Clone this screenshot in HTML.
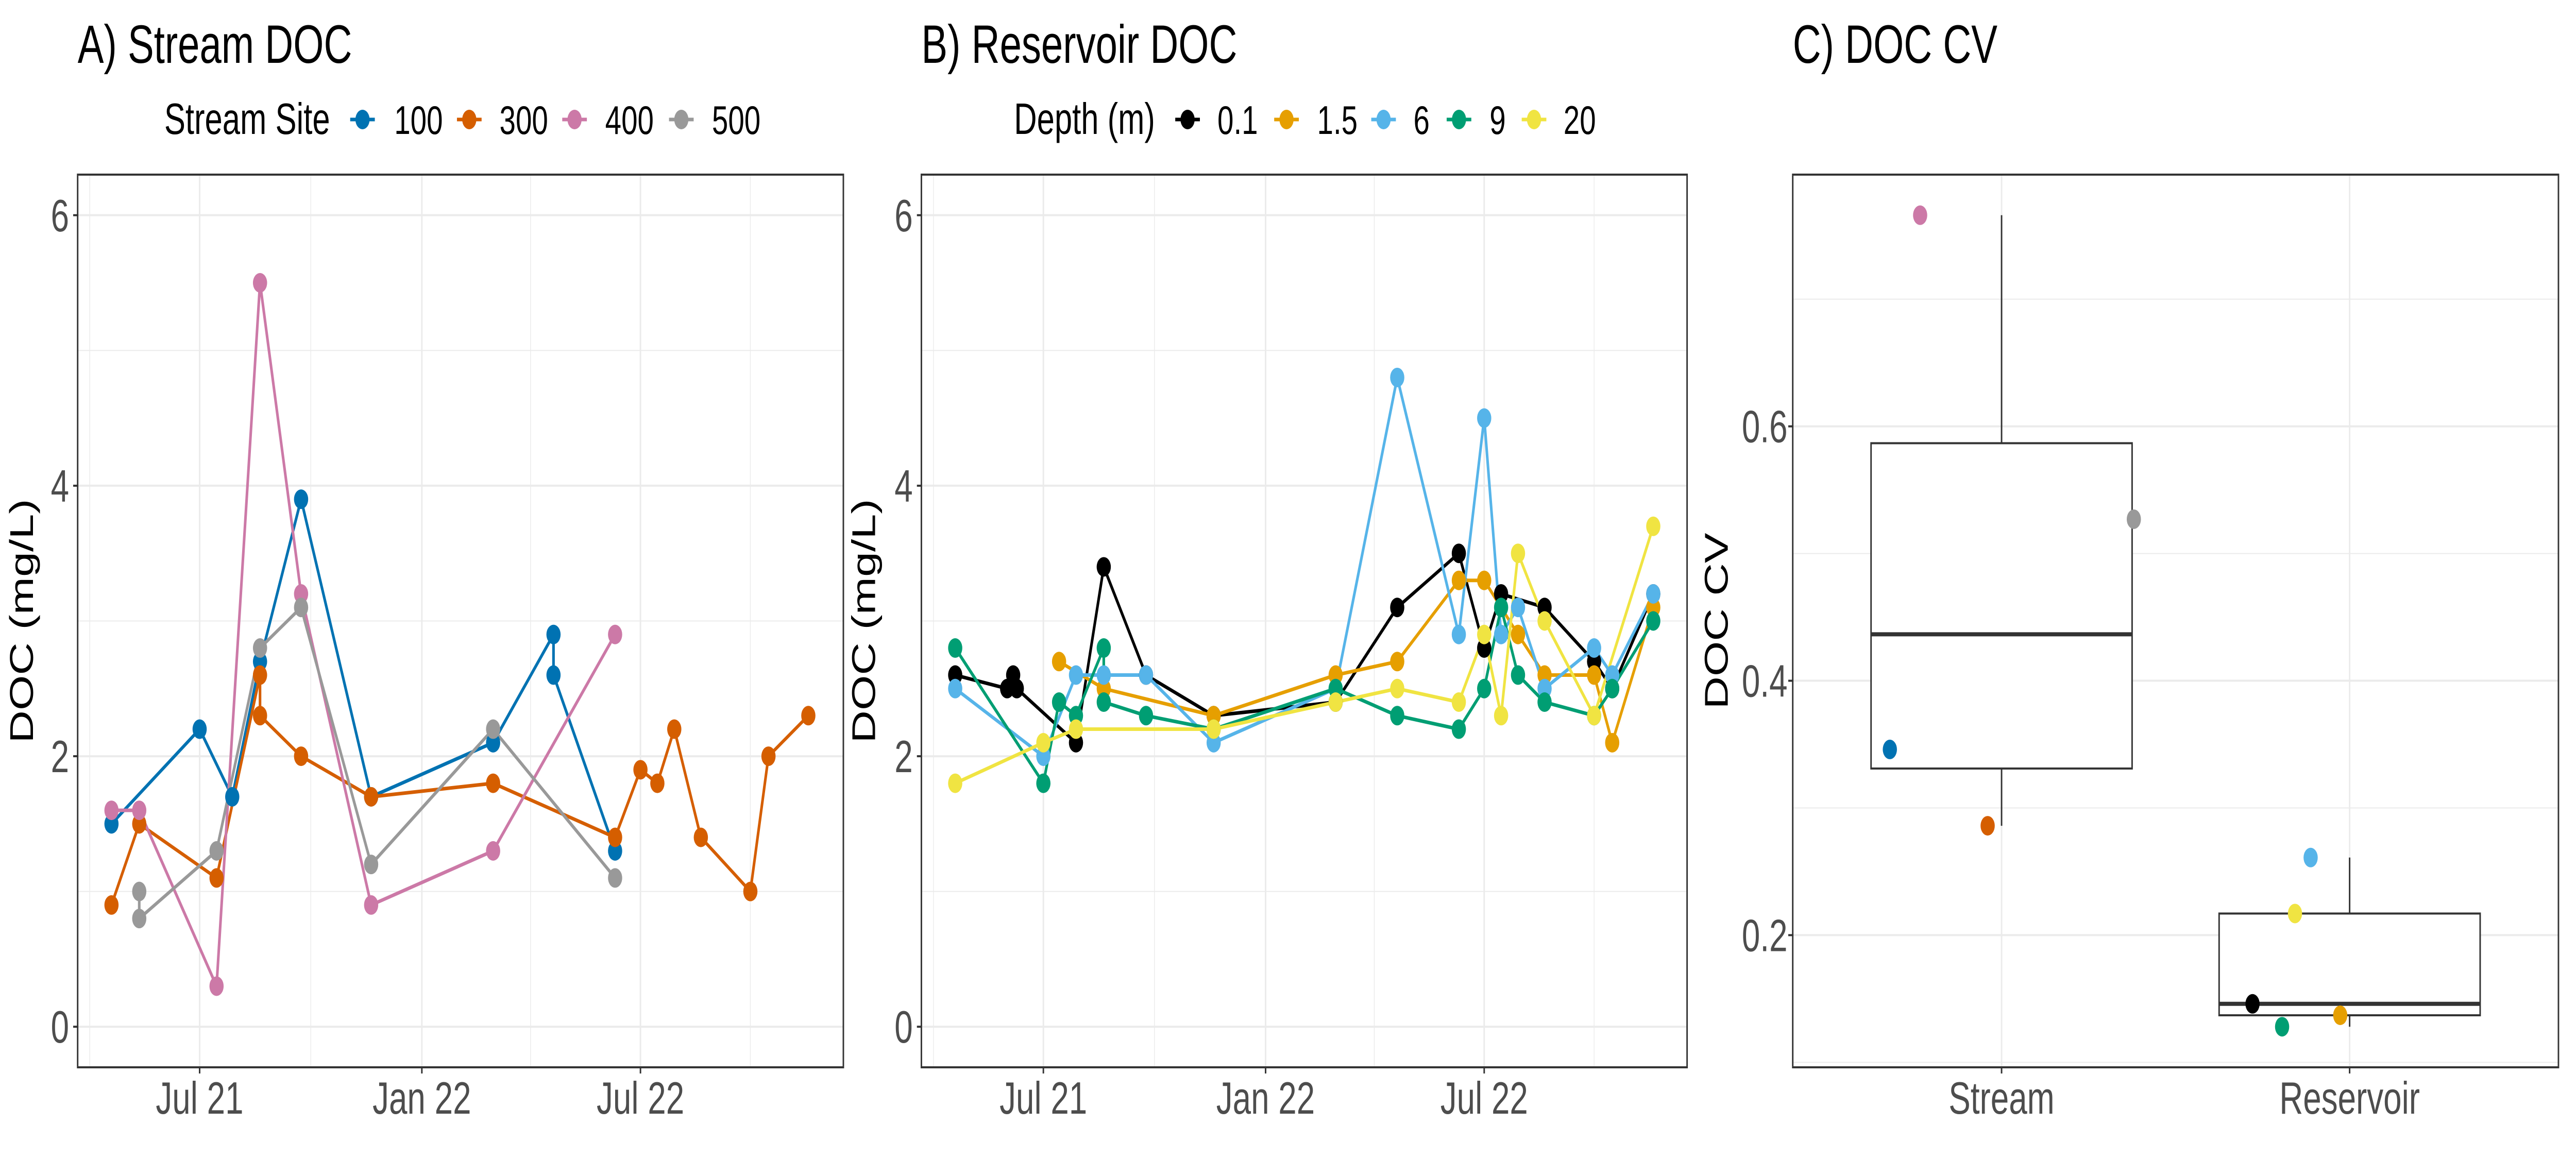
<!DOCTYPE html>
<html><head><meta charset="utf-8"><style>
html,body{margin:0;padding:0;background:#fff;width:100%;height:100%;overflow:hidden;}
svg{display:block;width:100vw;height:100vh;font-family:"Liberation Sans",Arial,sans-serif;}
</style></head><body>
<svg id="chart" viewBox="0 0 6900 2250" preserveAspectRatio="none" xmlns="http://www.w3.org/2000/svg"></svg>
<script>
// ---------- Panel A data (day index since 2021-01-01) ----------
const aSites = ["100","300","400","500"];
const aColors = ["#0072B2","#D55E00","#CC79A7","#999999"];
const aDays100 = [108,181,208,231,265,323,424,474,474,525];
const aVals100 = [1.5,2.2,1.7,2.7,3.9,1.7,2.1,2.9,2.6,1.3];
const aDays300 = [108,131,195,231,231,265,323,424,525,546,560,574,596,637,652,685];
const aVals300 = [0.9,1.5,1.1,2.6,2.3,2.0,1.7,1.8,1.4,1.9,1.8,2.2,1.4,1.0,2.0,2.3];
const aDays400 = [108,131,195,231,265,323,424,525];
const aVals400 = [1.6,1.6,0.3,5.5,3.2,0.9,1.3,2.9];
const aDays500 = [131,131,195,231,265,323,424,525];
const aVals500 = [1.0,0.8,1.3,2.8,3.1,1.2,2.2,1.1];
// ---------- Panel B data ----------
const bDepths = ["0.1","1.5","6","9","20"];
const bColors = ["#000000","#E69F00","#56B4E9","#009E73","#F0E442"];
const bDays01 = [108,151,156,159,208,231,266,322,423,474,525,546,560,596,637,652,686];
const bVals01 = [2.6,2.5,2.6,2.5,2.1,3.4,2.6,2.3,2.4,3.1,3.5,2.8,3.2,3.1,2.7,2.5,3.2];
const bDays15 = [194,231,322,423,474,525,546,574,596,637,652,686];
const bVals15 = [2.7,2.5,2.3,2.6,2.7,3.3,3.3,2.9,2.6,2.6,2.1,3.1];
const bDays6 = [108,181,208,231,266,322,423,474,525,546,560,574,596,637,652,686];
const bVals6 = [2.5,2.0,2.6,2.6,2.6,2.1,2.5,4.8,2.9,4.5,2.9,3.1,2.5,2.8,2.6,3.2];
const bDays9 = [108,181,194,208,231,231,266,322,423,474,525,546,560,574,596,637,652,686];
const bVals9 = [2.8,1.8,2.4,2.3,2.8,2.4,2.3,2.2,2.5,2.3,2.2,2.5,3.1,2.6,2.4,2.3,2.5,3.0];
const bDays20 = [108,181,208,322,423,474,525,546,560,574,596,637,686];
const bVals20 = [1.8,2.1,2.2,2.2,2.4,2.5,2.4,2.9,2.3,3.5,3.0,2.3,3.7];
// ---------- shared time axis ----------
const timeTickDays = [181,365,546];
const timeTickLabels = ["Jul 21","Jan 22","Jul 22"];
const timeMinorDays = [90,273,455,637];
const docTicks = [0,2,4,6];
const docMinor = [1,3,5];
// ---------- Panel C data ----------
const cGroups = ["Stream","Reservoir"];
const cStreamCV = [0.766,0.527,0.346,0.286];
const cStreamColors = ["#CC79A7","#999999","#0072B2","#D55E00"];
const cStreamJitter = [-0.234,0.380,-0.321,-0.040];
const cResCV = [0.261,0.217,0.146,0.128,0.137];
const cResColors = ["#56B4E9","#F0E442","#000000","#009E73","#E69F00"];
const cResJitter = [-0.112,-0.157,-0.279,-0.194,-0.027];
const cvTicks = [0.2,0.4,0.6];
const cvTickLabels = ["0.2","0.4","0.6"];
const cvMinor = [0.1,0.3,0.5,0.7];

const NS="http://www.w3.org/2000/svg";
const svg=document.getElementById('chart');
function el(tag,attrs,parent,text){const e=document.createElementNS(NS,tag);for(const k in attrs)e.setAttribute(k,attrs[k]);if(text!==undefined)e.textContent=text;(parent||svg).appendChild(e);return e;}

const TOP=339,BOT=2072;
function linScale(d0,d1,r0,r1){return v=>r0+(v-d0)*(r1-r0)/(d1-d0);}

function timePanel(name,left,right,title,legTitle,legTitleX,keys,keyMarkX,keyLabelX,colors,daysArr,valsArr,ylabX){
  const g=el('g',{});
  
  
  const x=linScale(80,714,left,right);
  const y=linScale(-0.3,6.3,BOT,TOP);
  el('rect',{x:left,y:TOP,width:right-left,height:BOT-TOP,fill:'#fff'},g);
  timeMinorDays.forEach(d=>{const l=el('line',{x1:x(d),x2:x(d),y1:TOP,y2:BOT,stroke:'#ebebeb','stroke-width':2},g);});
  docMinor.forEach(v=>{const l=el('line',{x1:left,x2:right,y1:y(v),y2:y(v),stroke:'#ebebeb','stroke-width':2},g);});
  timeTickDays.forEach((d,i)=>{
    const l=el('line',{x1:x(d),x2:x(d),y1:TOP,y2:BOT,stroke:'#ebebeb','stroke-width':4},g);
    
    
    el('line',{x1:x(d),x2:x(d),y1:BOT,y2:BOT+12,stroke:'#333','stroke-width':4},g);
    const t=el('text',{x:x(d),y:2162,'font-size':88,fill:'#4d4d4d','text-anchor':'middle'},g,timeTickLabels[i]);
    
    
  });
  docTicks.forEach(v=>{
    const l=el('line',{x1:left,x2:right,y1:y(v),y2:y(v),stroke:'#ebebeb','stroke-width':4},g);
    
    
    el('line',{x1:left-12,x2:left,y1:y(v),y2:y(v),stroke:'#333','stroke-width':4},g);
    const t=el('text',{x:left-23,y:y(v)+31,'font-size':88,fill:'#4d4d4d','text-anchor':'end'},g,String(v));
    
    
  });
  daysArr.forEach((days,si)=>{
    const vals=valsArr[si];
    const pts=days.map((d,i)=>x(d)+','+y(vals[i])).join(' ');
    const pl=el('polyline',{points:pts,fill:'none',stroke:colors[si],'stroke-width':7,'stroke-linejoin':'round'},g);
    
    
  });
  daysArr.forEach((days,si)=>{
    const vals=valsArr[si];
    days.forEach((d,i)=>{
      const c=el('circle',{cx:x(d),cy:y(vals[i]),r:19,fill:colors[si]},g);
      
      
    });
  });
  const border=el('rect',{x:left,y:TOP,width:right-left,height:BOT-TOP,fill:'none',stroke:'#333','stroke-width':4},g);
  
  
  const tt=el('text',{x:left,y:122,'font-size':105,fill:'#000'},g,title);
  
  
  const yl=el('text',{x:0,y:0,'font-size':88,fill:'#000','text-anchor':'middle',transform:`translate(${ylabX+30},${(TOP+BOT)/2}) rotate(-90)`},g,'DOC (mg/L)');
  
  
  const lt=el('text',{x:legTitleX,y:260,'font-size':85,fill:'#000'},g,legTitle);
  
  
  keys.forEach((k,i)=>{
    const lg=el('g',{},g);
    
    
    el('line',{x1:keyMarkX[i]-33,x2:keyMarkX[i]+33,y1:232,y2:232,stroke:colors[i],'stroke-width':7},lg);
    el('circle',{cx:keyMarkX[i],cy:232,r:19,fill:colors[i]},lg);
    el('text',{x:keyLabelX[i],y:260,'font-size':78,fill:'#000'},lg,k);
  });
}

timePanel('panel-a-stream-doc',208,2259,'A) Stream DOC','Stream Site',440,aSites,[971,1257,1539,1825],[1056,1338,1621,1907],aColors,
  [aDays100,aDays300,aDays400,aDays500],[aVals100,aVals300,aVals400,aVals500],58);
timePanel('panel-b-reservoir-doc',2468,4519,'B) Reservoir DOC','Depth (m)',2716,bDepths,[3181,3446,3706,3908,4109],[3261,3528,3786,3990,4188],bColors,
  [bDays01,bDays15,bDays6,bDays9,bDays20],[bVals01,bVals15,bVals6,bVals9,bVals20],2314);

// ---------- Panel C ----------
(function(){
  const left=4802,right=6853;
  const g=el('g',{});
  
  
  const all=cStreamCV.concat(cResCV);
  const mn=Math.min(...all),mx=Math.max(...all),r=mx-mn;
  const y=linScale(mn-0.05*r,mx+0.05*r,BOT,TOP);
  const x=linScale(0.4,2.6,left,right);
  el('rect',{x:left,y:TOP,width:right-left,height:BOT-TOP,fill:'#fff'},g);
  cvMinor.forEach(v=>{const yy=y(v);if(yy<TOP||yy>BOT)return;const l=el('line',{x1:left,x2:right,y1:yy,y2:yy,stroke:'#ebebeb','stroke-width':2},g);});
  cvTicks.forEach((v,i)=>{
    const l=el('line',{x1:left,x2:right,y1:y(v),y2:y(v),stroke:'#ebebeb','stroke-width':4},g);
    
    
    el('line',{x1:left-12,x2:left,y1:y(v),y2:y(v),stroke:'#333','stroke-width':4},g);
    const t=el('text',{x:left-14,y:y(v)+31,'font-size':88,fill:'#4d4d4d','text-anchor':'end'},g,cvTickLabels[i]);
    
    
  });
  cGroups.forEach((gname,i)=>{
    const l=el('line',{x1:x(i+1),x2:x(i+1),y1:TOP,y2:BOT,stroke:'#ebebeb','stroke-width':4},g);
    
    
    el('line',{x1:x(i+1),x2:x(i+1),y1:BOT,y2:BOT+12,stroke:'#333','stroke-width':4},g);
    const t=el('text',{x:x(i+1),y:2162,'font-size':88,fill:'#4d4d4d','text-anchor':'middle'},g,gname);
    
    
  });
  function quant(arr,p){const s=arr.slice().sort((a,b)=>a-b);const h=(s.length-1)*p;const lo=Math.floor(h);return s[lo]+(h-lo)*((s[lo+1]??s[lo])-s[lo]);}
  [cStreamCV,cResCV].forEach((vals,i)=>{
    const q1=quant(vals,0.25),md=quant(vals,0.5),q3=quant(vals,0.75),iqr=q3-q1;
    const lo=Math.min(...vals.filter(v=>v>=q1-1.5*iqr)),hi=Math.max(...vals.filter(v=>v<=q3+1.5*iqr));
    const cx=x(i+1),hw=(x(1.375)-x(1));
    const bg=el('g',{},g);
    
    
    el('line',{x1:cx,x2:cx,y1:y(hi),y2:y(q3),stroke:'#333','stroke-width':4},bg);
    el('line',{x1:cx,x2:cx,y1:y(q1),y2:y(lo),stroke:'#333','stroke-width':4},bg);
    el('rect',{x:cx-hw,y:y(q3),width:2*hw,height:y(q1)-y(q3),fill:'#fff',stroke:'#333','stroke-width':4},bg);
    el('line',{x1:cx-hw,x2:cx+hw,y1:y(md),y2:y(md),stroke:'#333','stroke-width':8},bg);
  });
  cStreamCV.forEach((v,i)=>{
    const c=el('circle',{cx:x(1+cStreamJitter[i]),cy:y(v),r:19,fill:cStreamColors[i]},g);
    
    
  });
  cResCV.forEach((v,i)=>{
    const c=el('circle',{cx:x(2+cResJitter[i]),cy:y(v),r:19,fill:cResColors[i]},g);
    
    
  });
  const border=el('rect',{x:left,y:TOP,width:right-left,height:BOT-TOP,fill:'none',stroke:'#333','stroke-width':4},g);
  
  
  const tt=el('text',{x:left,y:122,'font-size':105,fill:'#000'},g,'C) DOC CV');
  
  
  const yl=el('text',{x:0,y:0,'font-size':88,fill:'#000','text-anchor':'middle',transform:`translate(4628,${(TOP+BOT)/2}) rotate(-90)`},g,'DOC CV');
  
  
})();
</script>
</body></html>
